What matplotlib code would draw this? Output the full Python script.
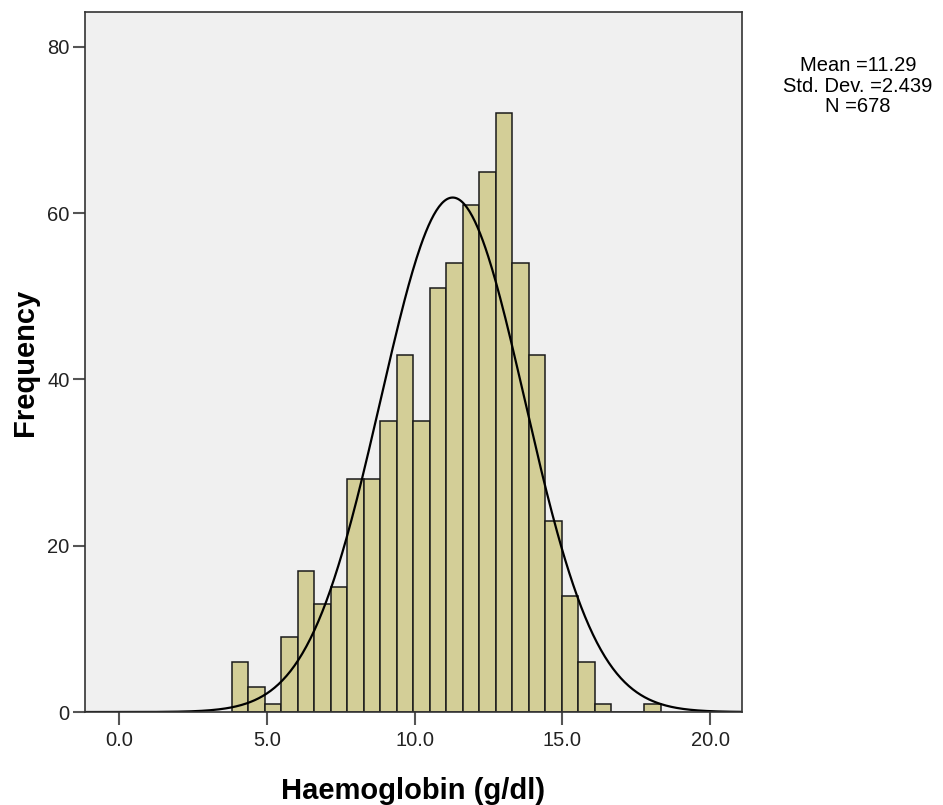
import numpy as np
import matplotlib
matplotlib.use("Agg")
import matplotlib.pyplot as plt

plt.rcParams["font.family"] = ["Liberation Sans", "DejaVu Sans"]

# Histogram of haemoglobin values (26 equal bins, SPSS output)
bin_start = 3.82
bin_width = 0.558
counts = [6, 3, 1, 9, 17, 13, 15, 28, 28, 35, 43, 35, 51,
          54, 61, 65, 72, 54, 43, 23, 14, 6, 1, 0, 0, 1]

mean_hb = 11.29
sd_hb = 2.439
n_hb = 678

x_ticks = [0, 5, 10, 15, 20]
y_ticks = [0, 20, 40, 60, 80]

fig = plt.figure(figsize=(9.43, 8.05), dpi=100)
ax = fig.add_axes([0.0901, 0.1155, 0.6968, 0.8696])
ax.set_facecolor("#F0F0F0")

edges = bin_start + bin_width * np.arange(len(counts))
ax.bar(edges, counts, width=bin_width, align="edge",
       color="#D3CE97", edgecolor="#1a1a1a", linewidth=1.1)

# normal curve from the summary statistics
xs = np.linspace(-1.2, 21.2, 500)
ys = n_hb * bin_width / (sd_hb * np.sqrt(2 * np.pi)) * np.exp(-0.5 * ((xs - mean_hb) / sd_hb) ** 2)
ax.plot(xs, ys, color="black", linewidth=1.6)

ax.set_xlim(-1.15, 21.08)
ax.set_ylim(0, 84.2)
ax.set_xticks(x_ticks)
ax.set_xticklabels([f"{t:.1f}" for t in x_ticks])
ax.set_yticks(y_ticks)
ax.tick_params(direction="out", length=9, width=1.5, labelsize=14.5,
               color="#555555", labelcolor="#222222")
ax.tick_params(axis="x", pad=5)
ax.tick_params(axis="y", pad=2)
for s in ax.spines.values():
    s.set_color("#333333")
    s.set_linewidth(1.2)

ax.set_xlabel("Haemoglobin (g/dl)", fontsize=21, fontweight="bold", labelpad=19)
ax.set_ylabel("Frequency", fontsize=21, fontweight="bold", labelpad=6)

fig.text(0.91, 0.893, f"Mean ={mean_hb:.2f}\nStd. Dev. ={sd_hb:.3f}\nN ={n_hb}",
         ha="center", va="center", fontsize=14.5, linespacing=1.1)

fig.savefig("out.png", dpi=100)
plt.close(fig)
